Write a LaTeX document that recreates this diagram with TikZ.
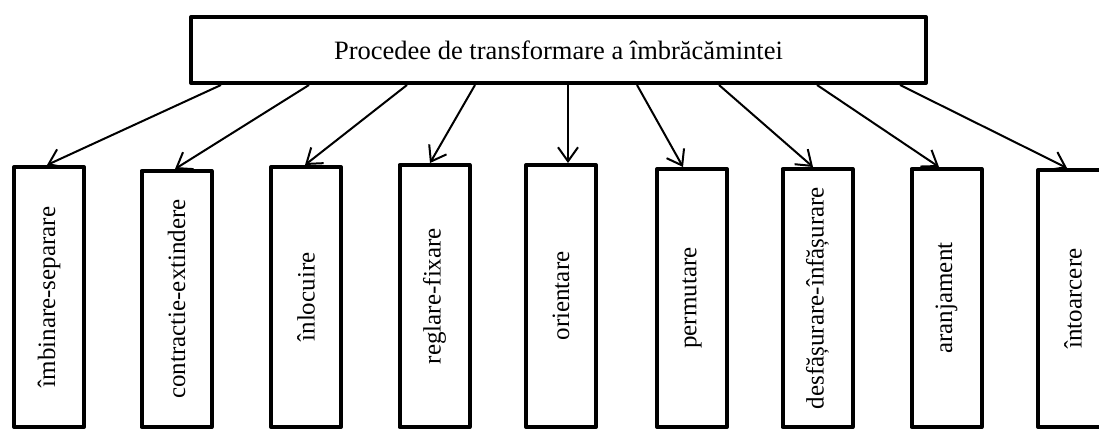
\documentclass[tikz,border=0pt]{standalone}
\usepackage{fontspec}
\setmainfont{Liberation Serif}
\usepackage{graphicx}
\usepackage{tikz}
\usetikzlibrary{arrows.meta}

\tikzset{
	procbox/.style={draw,line width=4pt,line join=round,fill=white,inner sep=0pt},
	opbox/.style={procbox,minimum width=70pt,font=\fontsize{25}{29}\selectfont},
	arr/.style={line width=2pt,-{Straight Barb[length=14pt,width=20pt,line width=2pt]}}
}

\begin{document}
\begin{tikzpicture}[x=1pt,y=-1pt,font=\fontsize{26.5}{30}\selectfont]
	\useasboundingbox (0,0) rectangle (1099,428);
	\clip (0,0) rectangle (1099,428);
	\node[procbox,minimum width=735pt,minimum height=66pt] (proc) at (558.5,50) {Procedee de transformare a îmbrăcămintei};
	\foreach \n/\cx/\ty/\sx/\dx/\lbl in {
		1/49/165/221/-2/îmbinare-separare,
		2/176.5/169/309/-1.5/contractie-extindere,
		3/306/165/407/-1/înlocuire,
		4/434.5/163/475/-4.5/reglare-fixare,
		5/561/163/568/7/orientare,
		6/692/167/637/-9/permutare,
		7/817.5/167/719/-4.5/desfășurare-înfășurare,
		8/946.5/167/817/-7.5/aranjament,
		9/1073/168/900/-6/întoarcere}
	{
		\node[opbox,minimum height={(425-\ty)*1pt}] (op\n) at ({\cx},{(\ty+429)/2}) {\rotatebox{90}{\lbl}};
		\draw[arr] (proc.south -| \sx,0) -- ([xshift=\dx pt]op\n.north);
	}
\end{tikzpicture}
\end{document}
